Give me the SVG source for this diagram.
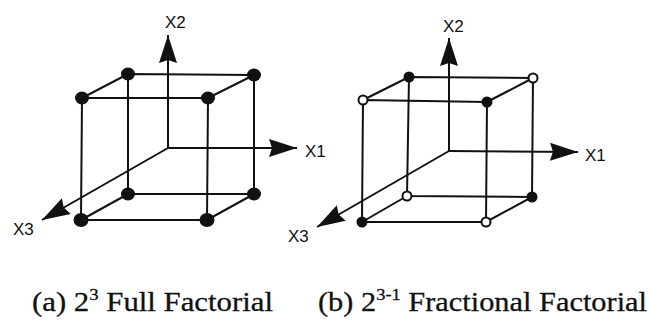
<svg xmlns="http://www.w3.org/2000/svg" width="650" height="329" viewBox="0 0 650 329">
<style>
.e{stroke:#111;stroke-width:2;fill:none;stroke-linecap:round}
.ax{stroke:#111;stroke-width:2;fill:none}
.f{fill:#111}
.fs{fill:#111}
.o{fill:#fff;stroke:#111;stroke-width:2}
.lb{font-family:"Liberation Sans",Arial,sans-serif;font-size:17px;fill:#111}
.cap{font-family:"Liberation Serif","Times New Roman",serif;font-size:28px;fill:#111;stroke:#111;stroke-width:0.3}
</style>
<defs>
<marker id="ah" markerUnits="userSpaceOnUse" markerWidth="30" markerHeight="20" refX="28" refY="9" orient="auto" viewBox="0 0 30 20">
<path d="M0,0 L28,9 L0,18 L3,9 z" fill="#111"/>
</marker>
</defs>
<rect width="650" height="329" fill="#fff"/>
<g id="connectors">
<g id="cubeA-edges">
<path class="e" d="M82,98 L208,98 L207,220 L81,220 Z"/>
<path class="e" d="M128,74 L254,75 L254,194 L128,194 Z"/>
<path class="e" d="M82,98 L128,74 M208,98 L254,75 M81,220 L128,194 M207,220 L254,194"/>
</g>
<g id="cubeA-axes">
<line class="ax" x1="168" y1="148" x2="168" y2="35" marker-end="url(#ah)"/>
<line class="ax" x1="167" y1="148" x2="297" y2="148" marker-end="url(#ah)"/>
<line class="ax" x1="168" y1="148" x2="42" y2="220" marker-end="url(#ah)"/>
</g>
<g id="cubeB-edges">
<path class="e" d="M363,100 L487,102 L486,222 L362,222 Z"/>
<path class="e" d="M409,77 L533,78 L532,197 L407,196 Z"/>
<path class="e" d="M363,100 L409,77 M487,102 L533,78 M362,222 L407,196 M486,222 L532,197"/>
</g>
<g id="cubeB-axes">
<line class="ax" x1="449" y1="151" x2="449" y2="38" marker-end="url(#ah)"/>
<line class="ax" x1="448" y1="151" x2="578" y2="152" marker-end="url(#ah)"/>
<line class="ax" x1="449" y1="151" x2="317" y2="227" marker-end="url(#ah)"/>
</g>
</g>
<g id="cubeA-nodes">
<g id="a-ftl"><ellipse class="f" cx="82" cy="98" rx="7" ry="6.5"/></g>
<g id="a-ftr"><ellipse class="f" cx="208" cy="98" rx="7" ry="6.5"/></g>
<g id="a-btl"><ellipse class="f" cx="128" cy="74" rx="7" ry="6.5"/></g>
<g id="a-btr"><ellipse class="f" cx="254" cy="75" rx="7" ry="6.5"/></g>
<g id="a-fbl"><ellipse class="f" cx="81" cy="220" rx="7.5" ry="7"/></g>
<g id="a-fbr"><ellipse class="f" cx="207" cy="220" rx="7.5" ry="7"/></g>
<g id="a-bbl"><ellipse class="f" cx="128" cy="194" rx="7" ry="6.5"/></g>
<g id="a-bbr"><ellipse class="f" cx="254" cy="194" rx="7" ry="6.5"/></g>
</g>
<g id="cubeB-nodes">
<g id="b-ftl"><circle class="o" cx="363" cy="100" r="4.5"/></g>
<g id="b-ftr"><circle class="fs" cx="487" cy="102" r="5.5"/></g>
<g id="b-btl"><circle class="fs" cx="409" cy="77" r="5.5"/></g>
<g id="b-btr"><circle class="o" cx="533" cy="78" r="4.5"/></g>
<g id="b-fbl"><circle class="fs" cx="362" cy="222" r="5.5"/></g>
<g id="b-fbr"><circle class="o" cx="486" cy="222" r="4.5"/></g>
<g id="b-bbl"><circle class="o" cx="407" cy="196" r="4.5"/></g>
<g id="b-bbr"><circle class="fs" cx="532" cy="197" r="5.5"/></g>
</g>
<g id="labels">
<text class="lb" x="165" y="28">X2</text>
<text class="lb" x="305" y="157">X1</text>
<text class="lb" x="13" y="235">X3</text>
<text class="lb" x="443" y="32">X2</text>
<text class="lb" x="585" y="161">X1</text>
<text class="lb" x="288" y="242">X3</text>
</g>
<g id="captions">
<text class="cap" x="32" y="311" textLength="241" lengthAdjust="spacingAndGlyphs">(a) 2<tspan font-size="17" dy="-11">3</tspan><tspan dy="11"> Full Factorial</tspan></text>
<text class="cap" x="318" y="311" textLength="329" lengthAdjust="spacingAndGlyphs">(b) 2<tspan font-size="17" dy="-11">3-1</tspan><tspan dy="11"> Fractional Factorial</tspan></text>
</g>
</svg>
